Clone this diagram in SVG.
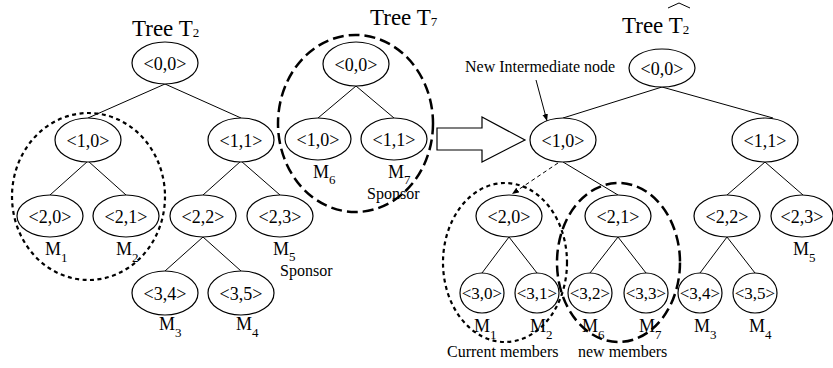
<svg xmlns="http://www.w3.org/2000/svg" width="833" height="368" viewBox="0 0 833 368">
<style>
text,tspan{font-family:"Liberation Serif","Times New Roman",serif;fill:#000}
.n ellipse{fill:#fff;stroke:#000;stroke-width:1.2}
.n text{font-family:"Liberation Serif","Times New Roman",serif;font-size:18px;text-anchor:middle}
.n.s text{font-size:17px}
.m{font-size:18px}
.sub{font-size:13px}
.title{font-size:23px}
.lbl{font-family:"Liberation Serif","Times New Roman",serif;font-size:16px}
.e line{stroke:#000;stroke-width:1}
.dot{fill:none;stroke:#000;stroke-width:2.2;stroke-dasharray:4 3.5}
.dash{fill:none;stroke:#000;stroke-width:2.5;stroke-dasharray:11 5}
</style>
<defs>
<marker id="ah" viewBox="0 0 10 10" refX="10" refY="5" markerWidth="7" markerHeight="7" orient="auto" markerUnits="userSpaceOnUse">
<path d="M0,1 L10,5 L0,9 z" fill="#000"/>
</marker>
</defs>
<rect width="833" height="368" fill="#fff"/>

<!-- titles -->
<text class="title" x="132" y="36">Tree T<tspan class="sub" dy="1">2</tspan></text>
<text class="title" x="370" y="25">Tree T<tspan class="sub" dy="1">7</tspan></text>
<text class="title" x="622" y="33">Tree T<tspan class="sub" dy="1">2</tspan></text>
<path d="M668,8 L679,3 L690,8" fill="none" stroke="#000" stroke-width="1"/>

<!-- connectors -->
<g id="connectors" class="e">
<line x1="165" y1="84" x2="88" y2="118"/>
<line x1="165" y1="84" x2="241" y2="118"/>
<line x1="88" y1="161" x2="50" y2="195"/>
<line x1="88" y1="161" x2="126" y2="195"/>
<line x1="241" y1="161" x2="203" y2="195"/>
<line x1="241" y1="161" x2="280" y2="195"/>
<line x1="203" y1="237" x2="165" y2="271"/>
<line x1="203" y1="237" x2="241" y2="271"/>
<line x1="356" y1="86" x2="318" y2="118"/>
<line x1="356" y1="86" x2="394" y2="118"/>
<line x1="662" y1="87" x2="563" y2="118"/>
<line x1="662" y1="87" x2="773" y2="118"/>
<line x1="563" y1="162" x2="618" y2="195"/>
<line x1="558" y1="163" x2="512" y2="194" stroke-dasharray="4 3" marker-end="url(#ah)"/>
<line x1="765" y1="162" x2="727" y2="195"/>
<line x1="765" y1="162" x2="803" y2="195"/>
<line x1="509" y1="237" x2="482" y2="273"/>
<line x1="509" y1="237" x2="537" y2="273"/>
<line x1="618" y1="237" x2="590" y2="273"/>
<line x1="618" y1="237" x2="646" y2="273"/>
<line x1="727" y1="237" x2="700" y2="273"/>
<line x1="727" y1="237" x2="755" y2="273"/>
<line x1="536" y1="80" x2="547" y2="121" marker-end="url(#ah)"/>
</g>

<!-- big hollow arrow -->
<polygon points="437,128 482,128 482,117 525,140 482,162 482,150 437,150" fill="#fff" stroke="#000" stroke-width="1.2"/>

<!-- Tree T2 nodes -->
<g id="t2-00" class="n"><ellipse cx="165" cy="63" rx="33" ry="21"/><text x="165" y="70">&lt;0,0&gt;</text></g>
<g id="t2-10" class="n"><ellipse cx="88" cy="140" rx="33" ry="22"/><text x="88" y="147">&lt;1,0&gt;</text></g>
<g id="t2-11" class="n"><ellipse cx="241" cy="140" rx="33" ry="22"/><text x="241" y="147">&lt;1,1&gt;</text></g>
<g id="t2-20" class="n"><ellipse cx="50" cy="216" rx="33" ry="21"/><text x="50" y="223">&lt;2,0&gt;</text></g>
<g id="t2-21" class="n"><ellipse cx="126" cy="216" rx="33" ry="21"/><text x="126" y="223">&lt;2,1&gt;</text></g>
<g id="t2-22" class="n"><ellipse cx="203" cy="216" rx="33" ry="21"/><text x="203" y="223">&lt;2,2&gt;</text></g>
<g id="t2-23" class="n"><ellipse cx="280" cy="216" rx="33" ry="21"/><text x="280" y="223">&lt;2,3&gt;</text></g>
<g id="t2-34" class="n"><ellipse cx="165" cy="293" rx="33" ry="22"/><text x="165" y="300">&lt;3,4&gt;</text></g>
<g id="t2-35" class="n"><ellipse cx="241" cy="293" rx="33" ry="22"/><text x="241" y="300">&lt;3,5&gt;</text></g>
<text class="m" x="45" y="255">M<tspan class="sub" dy="7">1</tspan></text>
<text class="m" x="116" y="255">M<tspan class="sub" dy="7">2</tspan></text>
<text class="m" x="273" y="255">M<tspan class="sub" dy="6">5</tspan></text>
<text class="lbl" x="280" y="276">Sponsor</text>
<text class="m" x="159" y="330">M<tspan class="sub" dy="7">3</tspan></text>
<text class="m" x="236" y="330">M<tspan class="sub" dy="7">4</tspan></text>
<ellipse class="dot" cx="88.5" cy="196.5" rx="76.5" ry="83.5"/>

<!-- Tree T7 nodes -->
<g id="t7-00" class="n"><ellipse cx="356" cy="64" rx="33" ry="22"/><text x="356" y="71">&lt;0,0&gt;</text></g>
<g id="t7-10" class="n"><ellipse cx="318" cy="139" rx="33" ry="21"/><text x="318" y="146">&lt;1,0&gt;</text></g>
<g id="t7-11" class="n"><ellipse cx="394" cy="139" rx="33" ry="21"/><text x="394" y="146">&lt;1,1&gt;</text></g>
<text class="m" x="313" y="178">M<tspan class="sub" dy="6">6</tspan></text>
<text class="m" x="388" y="178">M<tspan class="sub" dy="6">7</tspan></text>
<text class="lbl" x="367" y="199">Sponsor</text>
<ellipse class="dash" cx="355.5" cy="123.5" rx="77.5" ry="88.5"/>

<!-- Tree T2 hat nodes -->
<text class="lbl" x="465" y="72">New Intermediate node</text>
<g id="h-00" class="n"><ellipse cx="662" cy="68" rx="33" ry="19"/><text x="662" y="75">&lt;0,0&gt;</text></g>
<g id="h-10" class="n"><ellipse cx="563" cy="140" rx="33" ry="22"/><text x="563" y="147">&lt;1,0&gt;</text></g>
<g id="h-11" class="n"><ellipse cx="765" cy="140" rx="33" ry="22"/><text x="765" y="147">&lt;1,1&gt;</text></g>
<g id="h-20" class="n"><ellipse cx="509" cy="216" rx="33" ry="21"/><text x="509" y="223">&lt;2,0&gt;</text></g>
<g id="h-21" class="n"><ellipse cx="618" cy="216" rx="33" ry="21"/><text x="618" y="223">&lt;2,1&gt;</text></g>
<g id="h-22" class="n"><ellipse cx="727" cy="216" rx="33" ry="21"/><text x="727" y="223">&lt;2,2&gt;</text></g>
<g id="h-23" class="n"><ellipse cx="802" cy="216" rx="31" ry="21"/><text x="802" y="223">&lt;2,3&gt;</text></g>
<g id="h-30" class="n s"><ellipse cx="482" cy="293" rx="22" ry="20"/><text x="482" y="299">&lt;3,0&gt;</text></g>
<g id="h-31" class="n s"><ellipse cx="537" cy="293" rx="22" ry="20"/><text x="537" y="299">&lt;3,1&gt;</text></g>
<g id="h-32" class="n s"><ellipse cx="590" cy="293" rx="22" ry="20"/><text x="590" y="299">&lt;3,2&gt;</text></g>
<g id="h-33" class="n s"><ellipse cx="646" cy="293" rx="22" ry="20"/><text x="646" y="299">&lt;3,3&gt;</text></g>
<g id="h-34" class="n s"><ellipse cx="700" cy="293" rx="22" ry="20"/><text x="700" y="299">&lt;3,4&gt;</text></g>
<g id="h-35" class="n s"><ellipse cx="755" cy="293" rx="22" ry="20"/><text x="755" y="299">&lt;3,5&gt;</text></g>
<text class="m" x="474" y="332">M<tspan class="sub" dy="7">1</tspan></text>
<text class="m" x="530" y="332">M<tspan class="sub" dy="7">2</tspan></text>
<text class="m" x="582" y="332">M<tspan class="sub" dy="7">6</tspan></text>
<text class="m" x="639" y="332">M<tspan class="sub" dy="7">7</tspan></text>
<text class="m" x="694" y="332">M<tspan class="sub" dy="7">3</tspan></text>
<text class="m" x="749" y="332">M<tspan class="sub" dy="7">4</tspan></text>
<text class="m" x="793" y="255">M<tspan class="sub" dy="7">5</tspan></text>
<ellipse class="dot" cx="505" cy="262.5" rx="62" ry="79.5"/>
<ellipse class="dash" cx="618.5" cy="262.5" rx="61.5" ry="79.5"/>
<text class="lbl" x="447" y="357">Current members</text>
<text class="lbl" x="578" y="357">new members</text>
</svg>
